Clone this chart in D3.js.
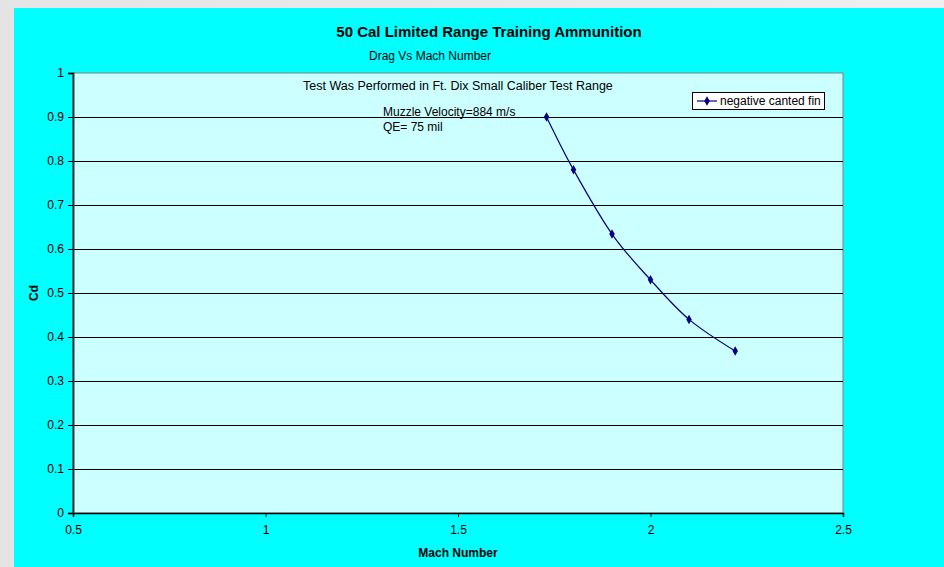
<!DOCTYPE html>
<html><head><meta charset="utf-8">
<script src="https://cdn.jsdelivr.net/npm/d3@7"></script>
<style>body{margin:0;background:#e8e8e8;}svg{display:block;font-family:Arial,"Liberation Sans",sans-serif;}</style>
</head><body>
<script>
const machNumbers = [1.73, 1.8, 1.9, 2.0, 2.1, 2.22];
const cdValues = [0.9, 0.78, 0.634, 0.53, 0.44, 0.368];
const xTicks = [0.5, 1, 1.5, 2, 2.5];
const yTicks = [0, 0.1, 0.2, 0.3, 0.4, 0.5, 0.6, 0.7, 0.8, 0.9, 1];
const seriesName = "negative canted fin";
const title = "50 Cal Limited Range Training Ammunition";
const subtitle = "Drag Vs Mach Number";
const note1 = "Test Was Performed in Ft. Dix Small Caliber Test Range";
const note2 = "Muzzle Velocity=884 m/s";
const note3 = "QE= 75 mil";

const W = 944, H = 567;
const svg = d3.select("body").append("svg").attr("width", W).attr("height", H);
const defs = svg.append("defs");
const g1 = defs.append("linearGradient").attr("id","lg").attr("x1","0").attr("x2","1");
g1.append("stop").attr("offset","0").attr("stop-color","#e4e4e4");
g1.append("stop").attr("offset","1").attr("stop-color","#eeeeee");
svg.append("rect").attr("width", W).attr("height", H).attr("fill", "url(#lg)");
svg.append("rect").attr("x", 14).attr("y", 8).attr("width", W - 14).attr("height", H - 8).attr("fill", "#00ffff");

const L = 73, R = 843, T = 73, B = 513;
const x = d3.scaleLinear().domain([0.5, 2.5]).range([L, R]);
const y = d3.scaleLinear().domain([0, 1]).range([B, T]);

svg.append("rect").attr("x", L).attr("y", T).attr("width", R - L).attr("height", B - T)
  .attr("fill", "#ccffff").attr("stroke", "#808080").attr("stroke-width", 1);

// gridlines
svg.append("g").selectAll("line").data(yTicks.filter(v => v > 0 && v < 1)).join("line")
  .attr("x1", L).attr("x2", R).attr("y1", d => Math.round(y(d)) + 0.5).attr("y2", d => Math.round(y(d)) + 0.5)
  .attr("stroke", "#000").attr("stroke-width", 1);

// axes
const yAxis = svg.append("g").attr("transform", `translate(${L},0)`)
  .call(d3.axisLeft(y).tickValues(yTicks).tickSize(5).tickPadding(4).tickFormat(d3.format("")));
const xAxis = svg.append("g").attr("transform", `translate(0,${B})`)
  .call(d3.axisBottom(x).tickValues(xTicks).tickSize(4).tickPadding(8).tickFormat(d3.format("")));
[yAxis, xAxis].forEach(a => {
  a.select(".domain").attr("stroke", "#000").attr("stroke-width", 1.5);
  a.selectAll(".tick line").attr("stroke", "#000");
  a.selectAll("text").attr("font-size", 12).attr("fill", "#000").attr("font-family", "Arial, 'Liberation Sans', sans-serif");
});
yAxis.select(".domain").attr("stroke", "#333").attr("stroke-width", 2);

// titles
svg.append("text").attr("x", 489).attr("y", 37).attr("text-anchor", "middle")
  .attr("font-size", 15).attr("font-weight", "bold").text(title);
svg.append("text").attr("x", 430).attr("y", 60).attr("text-anchor", "middle")
  .attr("font-size", 12).text(subtitle);
svg.append("text").attr("x", 458).attr("y", 557).attr("text-anchor", "middle")
  .attr("font-size", 12).attr("font-weight", "bold").text("Mach Number");
svg.append("text").attr("transform", "translate(38,293) rotate(-90)").attr("text-anchor", "middle")
  .attr("font-size", 12).attr("font-weight", "bold").text("Cd");

svg.append("text").attr("x", 303).attr("y", 90).attr("font-size", 12.5).text(note1);
svg.append("text").attr("x", 383).attr("y", 116).attr("font-size", 12).text(note2);
svg.append("text").attr("x", 383).attr("y", 131).attr("font-size", 12).text(note3);

// series
const data = machNumbers.map((m, i) => [m, cdValues[i]]);
const line = d3.line().x(d => x(d[0])).y(d => y(d[1])).curve(d3.curveCardinal.tension(0));
svg.append("path").datum(data).attr("d", line).attr("fill", "none").attr("stroke", "#000080").attr("stroke-width", 1.2);
const diamond = d3.symbol().type(d3.symbolDiamond).size(26);
svg.append("g").selectAll("path").data(data).join("path")
  .attr("transform", d => `translate(${x(d[0])},${y(d[1])})`).attr("d", diamond).attr("fill", "#000080");

// legend
const lg = svg.append("g");
lg.append("rect").attr("x", 692.5).attr("y", 92.5).attr("width", 132).attr("height", 17)
  .attr("fill", "#fff").attr("stroke", "#000").attr("stroke-width", 1);
lg.append("line").attr("x1", 697).attr("x2", 717).attr("y1", 101).attr("y2", 101).attr("stroke", "#000080").attr("stroke-width", 1.2);
lg.append("path").attr("transform", "translate(707,101)").attr("d", diamond).attr("fill", "#000080");
lg.append("text").attr("x", 720).attr("y", 105).attr("font-size", 12).text(seriesName);
</script>
</body></html>
